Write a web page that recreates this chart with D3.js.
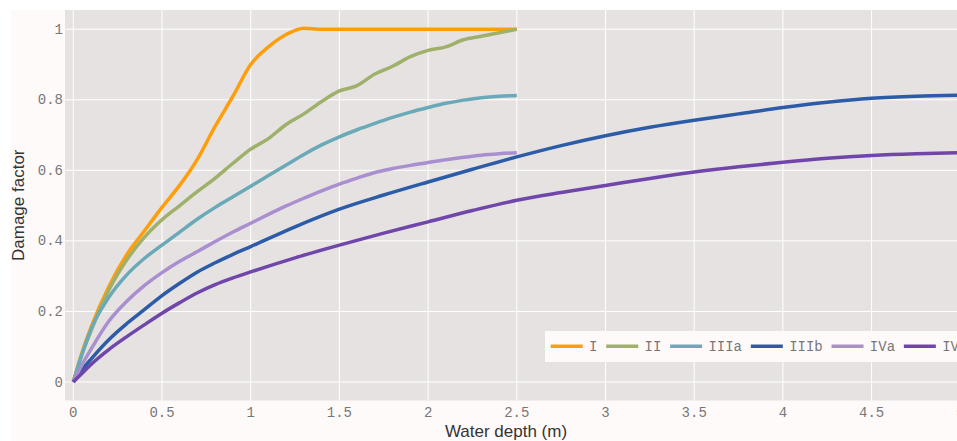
<!DOCTYPE html>
<html>
<head>
<meta charset="utf-8">
<script src="https://cdn.jsdelivr.net/npm/d3@7"></script>
<style>
  html, body { margin: 0; padding: 0; background: #fff; }
  svg { display: block; }
</style>
</head>
<body>
<div id="app"></div>
<script>
// water depth (m)
const depthShort = [0, 0.05, 0.1, 0.2, 0.3, 0.4, 0.5, 0.6, 0.7, 0.8, 0.9, 1.0, 1.1, 1.2, 1.3, 1.4,
  1.5, 1.6, 1.7, 1.8, 1.9, 2.0, 2.1, 2.2, 2.3, 2.4, 2.5];
const depthLong = [0, 0.05, 0.1, 0.2, 0.3, 0.4, 0.5, 0.6, 0.7, 0.8, 0.9, 1.0, 1.25, 1.5, 1.75,
  2.0, 2.25, 2.5, 2.75, 3.0, 3.25, 3.5, 3.75, 4.0, 4.25, 4.5, 4.75, 5.0];

// damage factor per class
const damageI = [0, 0.085, 0.155, 0.27, 0.36, 0.428, 0.495, 0.558, 0.632, 0.725, 0.81, 0.9, 0.95,
  0.985, 1.003, 1.0, 1.0, 1.0, 1.0, 1.0, 1.0, 1.0, 1.0, 1.0, 1.0, 1.0, 1.0];
const damageII = [0, 0.08, 0.145, 0.26, 0.345, 0.41, 0.46, 0.5, 0.54, 0.578, 0.62, 0.66, 0.69,
  0.73, 0.76, 0.795, 0.825, 0.84, 0.873, 0.895, 0.922, 0.94, 0.95, 0.97, 0.98, 0.99, 1.0];
const damageIIIa = [0, 0.08, 0.15, 0.24, 0.303, 0.35, 0.388, 0.425, 0.462, 0.495, 0.525, 0.555,
  0.585, 0.615, 0.645, 0.672, 0.695, 0.715, 0.733, 0.75, 0.765, 0.778, 0.79, 0.799, 0.806, 0.81, 0.812];
const damageIVa = [0, 0.05, 0.093, 0.172, 0.228, 0.273, 0.31, 0.342, 0.37, 0.398, 0.425, 0.45,
  0.475, 0.499, 0.521, 0.542, 0.561, 0.578, 0.594, 0.605, 0.614, 0.622, 0.63, 0.637, 0.643, 0.647, 0.65];
const damageIIIb = [0, 0.035, 0.065, 0.12, 0.165, 0.205, 0.245, 0.28, 0.312, 0.338, 0.362, 0.384,
  0.44, 0.49, 0.53, 0.567, 0.603, 0.638, 0.67, 0.698, 0.722, 0.742, 0.76, 0.778, 0.793, 0.804, 0.81, 0.813];
const damageIVb = [0, 0.025, 0.05, 0.092, 0.128, 0.162, 0.195, 0.225, 0.253, 0.276, 0.295, 0.312,
  0.352, 0.388, 0.422, 0.454, 0.486, 0.515, 0.537, 0.557, 0.577, 0.595, 0.61, 0.623, 0.634, 0.642, 0.647, 0.65];

const classNames = ['I', 'II', 'IIIa', 'IIIb', 'IVa', 'IVb'];
const classColors = ['#ff9e0a', '#9fb06b', '#6aaab8', '#2c5ca8', '#a98fd0', '#7046ab'];

const xTicks = [0, 0.5, 1, 1.5, 2, 2.5, 3, 3.5, 4, 4.5, 5];
const yTicks = [0, 0.2, 0.4, 0.6, 0.8, 1];

const series = [
  { name: 'I', x: depthShort, y: damageI },
  { name: 'II', x: depthShort, y: damageII },
  { name: 'IIIa', x: depthShort, y: damageIIIa },
  { name: 'IIIb', x: depthLong, y: damageIIIb },
  { name: 'IVa', x: depthShort, y: damageIVa },
  { name: 'IVb', x: depthLong, y: damageIVb }
];

const W = 957, H = 441;
const plot = { left: 65, top: 10, right: 969, bottom: 400.5 };
const monoFont = '"Liberation Mono", "Courier New", monospace';
const sansFont = '"Liberation Sans", Arial, sans-serif';

const svg = d3.select('#app').append('svg')
  .attr('width', W)
  .attr('height', H);

// paper and plot background
svg.append('rect').attr('x', 11).attr('y', 10).attr('width', 1000).attr('height', H - 10).attr('fill', '#fffafa');
svg.append('rect')
  .attr('x', plot.left).attr('y', plot.top)
  .attr('width', plot.right - plot.left).attr('height', plot.bottom - plot.top)
  .attr('fill', '#e6e2e1');

const x = d3.scaleLinear().domain([0, 5]).range([73.3, 960.3]);
const y = d3.scaleLinear().domain([0, 1]).range([382, 29.2]);

// grid
svg.append('g')
  .selectAll('line')
  .data(xTicks)
  .join('line')
  .attr('x1', d => x(d)).attr('x2', d => x(d))
  .attr('y1', plot.top).attr('y2', plot.bottom)
  .attr('stroke', '#fff').attr('stroke-width', 1);

svg.append('g')
  .selectAll('line')
  .data(yTicks)
  .join('line')
  .attr('x1', plot.left).attr('x2', plot.right)
  .attr('y1', d => y(d)).attr('y2', d => y(d))
  .attr('stroke', '#fff').attr('stroke-width', 1);

// tick labels
svg.append('g')
  .selectAll('text')
  .data(xTicks)
  .join('text')
  .attr('x', d => x(d))
  .attr('y', 416.5)
  .attr('text-anchor', 'middle')
  .attr('font-family', monoFont)
  .attr('font-size', 14)
  .attr('fill', '#777')
  .text(d => d);

svg.append('g')
  .selectAll('text')
  .data(yTicks)
  .join('text')
  .attr('x', 63)
  .attr('y', d => y(d) + 4.5)
  .attr('text-anchor', 'end')
  .attr('font-family', monoFont)
  .attr('font-size', 14)
  .attr('fill', '#777')
  .text(d => d);

// axis titles
svg.append('text')
  .attr('x', 506)
  .attr('y', 437)
  .attr('text-anchor', 'middle')
  .attr('font-family', sansFont)
  .attr('font-size', 17)
  .attr('fill', '#333')
  .text('Water depth (m)');

svg.append('text')
  .attr('transform', `translate(24, ${(plot.top + plot.bottom) / 2}) rotate(-90)`)
  .attr('text-anchor', 'middle')
  .attr('font-family', sansFont)
  .attr('font-size', 17)
  .attr('fill', '#333')
  .text('Damage factor');

// lines
const line = d3.line()
  .x(d => x(d[0]))
  .y(d => y(d[1]))
  .curve(d3.curveMonotoneX);

svg.append('g')
  .selectAll('path')
  .data(series)
  .join('path')
  .attr('d', s => line(s.x.map((v, i) => [v, s.y[i]])))
  .attr('fill', 'none')
  .attr('stroke', (s, i) => classColors[i])
  .attr('stroke-width', 3.5)
  .attr('stroke-linejoin', 'round')
  .attr('stroke-linecap', 'butt');

// legend
const legend = svg.append('g');
legend.append('rect')
  .attr('x', 545).attr('y', 331)
  .attr('width', 500).attr('height', 31)
  .attr('fill', '#fffafa');

let lx = 550.7;
classNames.forEach((name, i) => {
  const item = legend.append('g');
  item.append('line')
    .attr('x1', lx).attr('x2', lx + 32)
    .attr('y1', 346.3).attr('y2', 346.3)
    .attr('stroke', classColors[i])
    .attr('stroke-width', 3.5);
  const t = item.append('text')
    .attr('x', lx + 38.3)
    .attr('y', 351)
    .attr('font-family', monoFont)
    .attr('font-size', 14)
    .attr('fill', '#777')
    .text(name);
  lx += 38.3 + t.node().getComputedTextLength() + 8.8;
});
</script>
</body>
</html>
